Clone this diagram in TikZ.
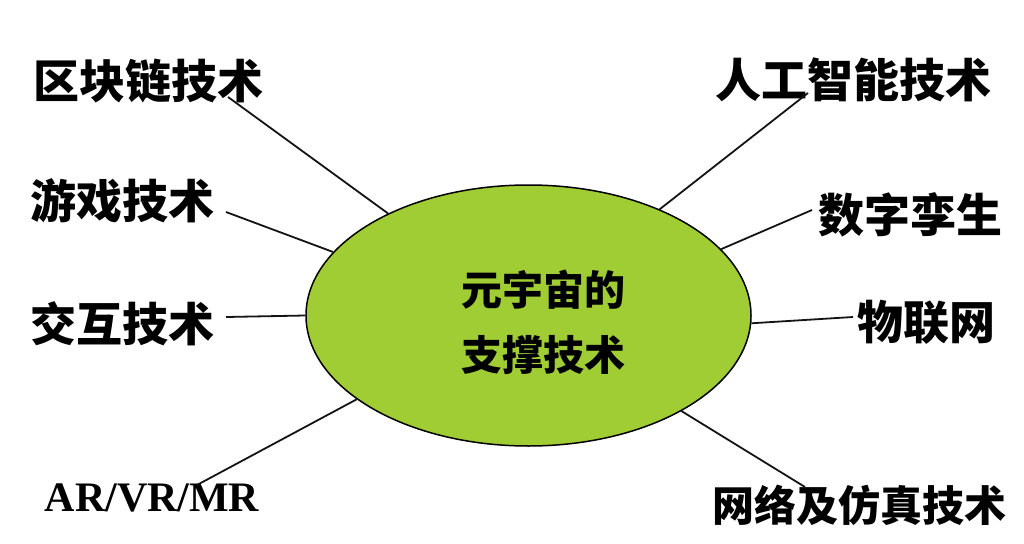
\documentclass[tikz,border=0pt]{standalone}
\usepackage{fontspec}
\setmainfont{Liberation Serif}
\newfontfamily\cjk{Noto Sans CJK SC}
\usetikzlibrary{shapes.geometric}
\definecolor{leaf}{RGB}{160,204,52}
\definecolor{ink}{RGB}{20,20,20}
\tikzset{
  lbl/.style={inner sep=0pt, text=black, font=\cjk\bfseries\fontsize{46}{46}\selectfont},
  conn/.style={draw=ink, line width=1.8pt},
}
\begin{document}
\begin{tikzpicture}[x=1pt,y=-1pt]
\useasboundingbox[fill=white] (0,0) rectangle (1024,543);
\node[ellipse, draw=black, line width=1.5pt, fill=leaf, minimum width=445pt, minimum height=261pt, inner sep=0pt] (E) at (528.5,315.5) {};
\node[inner sep=0pt, align=center, font=\cjk\bfseries\fontsize{41}{65}\selectfont] (T) at (543,322) {元宇宙的\\支撑技术};

\node[lbl] (L1) at (148,81) {区块链技术};
\node[lbl] (L2) at (122,201) {游戏技术};
\node[lbl] (L3) at (122,324) {交互技术};
\node[inner sep=0pt, font=\bfseries\fontsize{42}{42}\selectfont] (L4) at (152,498) {AR/VR/MR};
\node[lbl] (R1) at (853,80) {人工智能技术};
\node[lbl] (R2) at (910,215) {数字孪生};
\node[lbl] (R3) at (926,322) {物联网};
\node[lbl, font=\cjk\bfseries\fontsize{42}{42}\selectfont] (R4) at (859,505) {网络及仿真技术};

\coordinate (a1) at (228,97);
\coordinate (a2) at (226,212);
\coordinate (a3) at (226,317);
\coordinate (a4) at (197,485);
\coordinate (b1) at (808,93);
\coordinate (b2) at (812,210);
\coordinate (b3) at (853,317);
\coordinate (b4) at (805,487);

\draw[conn] (a1) -- (E.144.1);
\draw[conn] (a2) -- (E.162.7);
\draw[conn] (a3) -- (E.180);
\draw[conn] (a4) -- (E.206.8);
\draw[conn] (b1) -- (E.39.7);
\draw[conn] (b2) -- (E.19.2);
\draw[conn] (b3) -- (E.-2.4);
\draw[conn] (b4) -- (E.-32.3);
\end{tikzpicture}
\end{document}
